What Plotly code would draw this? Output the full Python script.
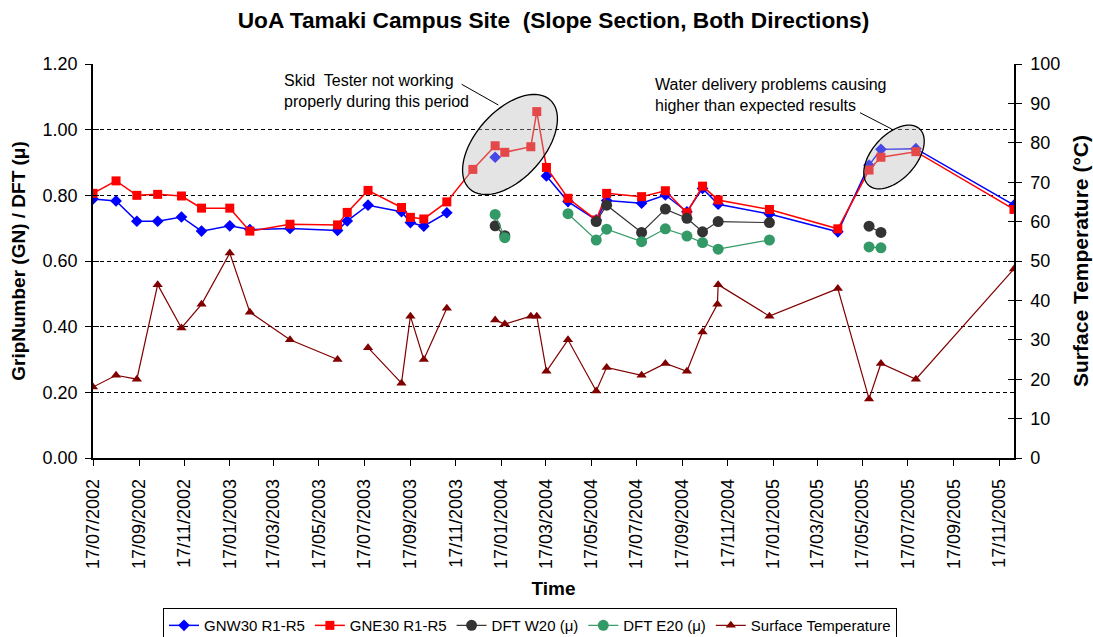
import math
import plotly.graph_objects as go

# Survey dates shared by the grip-number and DFT series
dates = [
    "2002-07-17", "2002-08-17", "2002-09-14", "2002-10-12", "2002-11-13", "2002-12-10",
    "2003-01-17", "2003-02-13", "2003-04-08", "2003-06-11", "2003-06-24", "2003-07-22",
    "2003-09-05", "2003-09-17", "2003-10-05", "2003-11-05", "2003-12-10", "2004-01-09",
    "2004-01-22", "2004-02-26", "2004-03-05", "2004-03-18", "2004-04-16", "2004-05-24",
    "2004-06-07", "2004-07-24", "2004-08-25", "2004-09-23", "2004-10-14", "2004-11-04",
    "2005-01-12", "2005-04-14", "2005-05-26", "2005-06-11", "2005-07-28", "2005-12-07",
]

gnw30 = [
    0.789, 0.783, 0.721, 0.721, 0.734, 0.691, 0.707, 0.696, 0.699, 0.693, 0.722, 0.770,
    0.750, 0.717, 0.706, 0.747, None, 0.916, None, None, None, 0.859, 0.781, 0.725,
    0.784, 0.776, 0.801, 0.750, 0.821, 0.773, 0.743, 0.689, 0.892, 0.940, 0.942, 0.770,
]

gne30 = [
    0.806, 0.844, 0.800, 0.803, 0.798, 0.761, 0.761, 0.691, 0.712, 0.710, 0.748, 0.815,
    0.763, 0.733, 0.728, 0.780, 0.879, 0.951, 0.931, 0.948, 1.055, 0.885, 0.791, 0.725,
    0.806, 0.796, 0.814, 0.747, 0.828, 0.786, 0.757, 0.698, 0.877, 0.916, 0.933, 0.757,
]

dft_w20 = [
    None, None, None, None, None, None, None, None, None, None, None, None,
    None, None, None, None, None, 0.707, 0.677, None, None, None, None, 0.720,
    0.770, 0.687, 0.758, 0.730, 0.689, 0.720, 0.717, None, 0.706, 0.687, None, None,
]

dft_e20 = [
    None, None, None, None, None, None, None, None, None, None, None, None,
    None, None, None, None, None, 0.742, 0.671, None, None, None, 0.744, 0.664,
    0.697, 0.659, 0.698, 0.676, 0.656, 0.636, 0.664, None, 0.643, 0.640, None, None,
]

# Surface temperature readings (two readings in early November 2004)
temp_dates = [
    "2002-07-17", "2002-08-17", "2002-09-14", "2002-10-12", "2002-11-13", "2002-12-10",
    "2003-01-17", "2003-02-13", "2003-04-08", "2003-06-11", "2003-06-24", "2003-07-22",
    "2003-09-05", "2003-09-17", "2003-10-05", "2003-11-05", "2003-12-10", "2004-01-09",
    "2004-01-22", "2004-02-26", "2004-03-05", "2004-03-18", "2004-04-16", "2004-05-24",
    "2004-06-07", "2004-07-24", "2004-08-25", "2004-09-23", "2004-10-14", "2004-11-03",
    "2004-11-04", "2005-01-12", "2005-04-14", "2005-05-26", "2005-06-11", "2005-07-28",
    "2005-12-07",
]

surface_temp = [
    18, 21, 20, 44, 33, 39, 52, 37, 30, 25, None, 28,
    19, 36, 25, 38, None, 35, 34, 36, 36, 22, 30, 17,
    23, 21, 24, 22, 32, 39, 44, 36, 43, 15, 24, 20,
    48,
]

tick_dates = [
    "2002-07-17", "2002-09-17", "2002-11-17", "2003-01-17", "2003-03-17", "2003-05-17",
    "2003-07-17", "2003-09-17", "2003-11-17", "2004-01-17", "2004-03-17", "2004-05-17",
    "2004-07-17", "2004-09-17", "2004-11-17", "2005-01-17", "2005-03-17", "2005-05-17",
    "2005-07-17", "2005-09-17", "2005-11-17",
]
tick_labels = ["/".join(reversed(d.split("-"))) for d in tick_dates]

FONT = "Liberation Sans, Arial, sans-serif"
W, H = 1093, 637
M_L, M_R, M_T, M_B = 93, 79, 64, 179
PLOT_W, PLOT_H = W - M_L - M_R, H - M_T - M_B

fig = go.Figure()

fig.add_trace(go.Scatter(
    x=dates, y=gnw30, name="GNW30 R1-R5", mode="lines+markers",
    line=dict(color="#0000FF", width=1.5),
    marker=dict(symbol="diamond", size=9, color="#0000FF"),
))
fig.add_trace(go.Scatter(
    x=dates, y=gne30, name="GNE30 R1-R5", mode="lines+markers",
    line=dict(color="#FF0000", width=1.5),
    marker=dict(symbol="square", size=9, color="#FF0000"),
))
fig.add_trace(go.Scatter(
    x=dates, y=dft_w20, name="DFT W20 (\u03bc)", mode="lines+markers",
    line=dict(color="#333333", width=1.2),
    marker=dict(symbol="circle", size=11, color="#333333"),
))
fig.add_trace(go.Scatter(
    x=dates, y=dft_e20, name="DFT E20 (\u03bc)", mode="lines+markers",
    line=dict(color="#339966", width=1.2),
    marker=dict(symbol="circle", size=11, color="#339966"),
))
fig.add_trace(go.Scatter(
    x=temp_dates, y=surface_temp, name="Surface Temperature", mode="lines+markers",
    yaxis="y2",
    line=dict(color="#800000", width=1.2),
    marker=dict(symbol="triangle-up", size=9, color="#800000"),
))

# empty carriers so the inner-tick overlay axes get rendered
for ax in ("y3", "y4"):
    fig.add_trace(go.Scatter(x=[dates[0]], y=[None], yaxis=ax, mode="lines",
                             showlegend=False, hoverinfo="skip"))


def ellipse_path(cx, cy, a, b, angle_deg, n=72):
    """Rotated ellipse in plot pixels (origin bottom-left) as a paper-space SVG path."""
    th = math.radians(angle_deg)
    pts = []
    for i in range(n):
        t = 2 * math.pi * i / n
        px = cx + a * math.cos(t) * math.cos(th) - b * math.sin(t) * math.sin(th)
        py = cy + a * math.cos(t) * math.sin(th) + b * math.sin(t) * math.cos(th)
        pts.append(f"{px / PLOT_W:.5f},{py / PLOT_H:.5f}")
    return "M" + " L".join(pts) + " Z"


highlight = dict(type="path", xref="paper", yref="paper",
                 fillcolor="rgba(185,185,185,0.39)",
                 line=dict(color="black", width=1.3), layer="above")

shapes = [
    dict(highlight, path=ellipse_path(417, 313.5, 60, 34, 48)),
    dict(highlight, path=ellipse_path(801, 301, 38, 22, 48)),
    dict(type="line", xref="paper", yref="paper", x0=0.4003, y0=0.9485, x1=0.4401, y1=0.8959,
         line=dict(color="black", width=1)),
    dict(type="line", xref="paper", yref="paper", x0=0.8328, y0=0.8764, x1=0.8672, y1=0.8350,
         line=dict(color="black", width=1)),
]

annotations = [
    dict(xref="paper", yref="paper", x=0.2055, y=0.9315, xanchor="left", yanchor="middle",
         align="left", showarrow=False,
         text="Skid  Tester not working<br>properly during this period",
         font=dict(family=FONT, size=16, color="black")),
    dict(xref="paper", yref="paper", x=0.6075, y=0.9213, xanchor="left", yanchor="middle",
         align="left", showarrow=False,
         text="Water delivery problems causing<br>higher than expected results",
         font=dict(family=FONT, size=16, color="black")),
]

tick_common = dict(tickcolor="black", ticklen=6, showgrid=False, zeroline=False)

fig.update_layout(
    width=W, height=H,
    margin=dict(l=M_L, r=M_R, t=M_T, b=M_B, autoexpand=False),
    paper_bgcolor="white", plot_bgcolor="white",
    font=dict(family=FONT, color="black"),
    title=dict(text="<b>UoA Tamaki Campus Site  (Slope Section, Both Directions)</b>",
               x=0.5, xref="paper", xanchor="center", y=1 - 20 / H, yanchor="middle",
               font=dict(family=FONT, size=22.7, color="black")),
    xaxis=dict(
        type="date", range=["2002-07-17", "2005-12-07"],
        tickvals=tick_dates, ticktext=tick_labels, tickangle=-90,
        tickfont=dict(family=FONT, size=18),
        ticks="outside", ticklen=6, tickcolor="black",
        showline=True, linecolor="black", linewidth=1.5,
        showgrid=False, zeroline=False, ticklabelstandoff=6,
        title=dict(text="<b>Time</b>", font=dict(family=FONT, size=19), standoff=14),
    ),
    yaxis=dict(
        range=[0, 1.2], dtick=0.2, tickformat=".2f",
        tickfont=dict(family=FONT, size=18),
        ticks="outside", ticklen=6, tickcolor="black",
        showline=True, linecolor="black", linewidth=1.5,
        showgrid=True, gridcolor="black", gridwidth=1, griddash="4px,3px",
        zeroline=False, ticklabelstandoff=4,
        title=dict(text="<b>GripNumber (GN) / DFT (\u03bc)</b>",
                   font=dict(family=FONT, size=19), standoff=12),
    ),
    yaxis2=dict(
        overlaying="y", side="right", range=[0, 100], dtick=10,
        tickfont=dict(family=FONT, size=18),
        ticks="outside", ticklen=6, tickcolor="black",
        showline=True, linecolor="black", linewidth=1.5,
        showgrid=False, zeroline=False, ticklabelstandoff=5,
        title=dict(text="<b>Surface Temperature (\u00b0C)</b>",
                   font=dict(family=FONT, size=21), standoff=14),
    ),
    # inner halves of the cross ticks on both value axes
    yaxis3=dict(overlaying="y", side="left", anchor="x", range=[0, 1.2], dtick=0.2,
                ticks="inside", showticklabels=False, showline=False, **tick_common),
    yaxis4=dict(overlaying="y", side="right", anchor="x", range=[0, 100], dtick=10,
                ticks="inside", showticklabels=False, showline=False, **tick_common),
    legend=dict(
        orientation="h", x=0.4745, xanchor="center", y=-0.381, yanchor="top",
        bordercolor="black", borderwidth=1, bgcolor="white",
        font=dict(family=FONT, size=15), itemwidth=30,
    ),
    shapes=shapes,
    annotations=annotations,
    showlegend=True,
)

fig.write_html("out.html")
